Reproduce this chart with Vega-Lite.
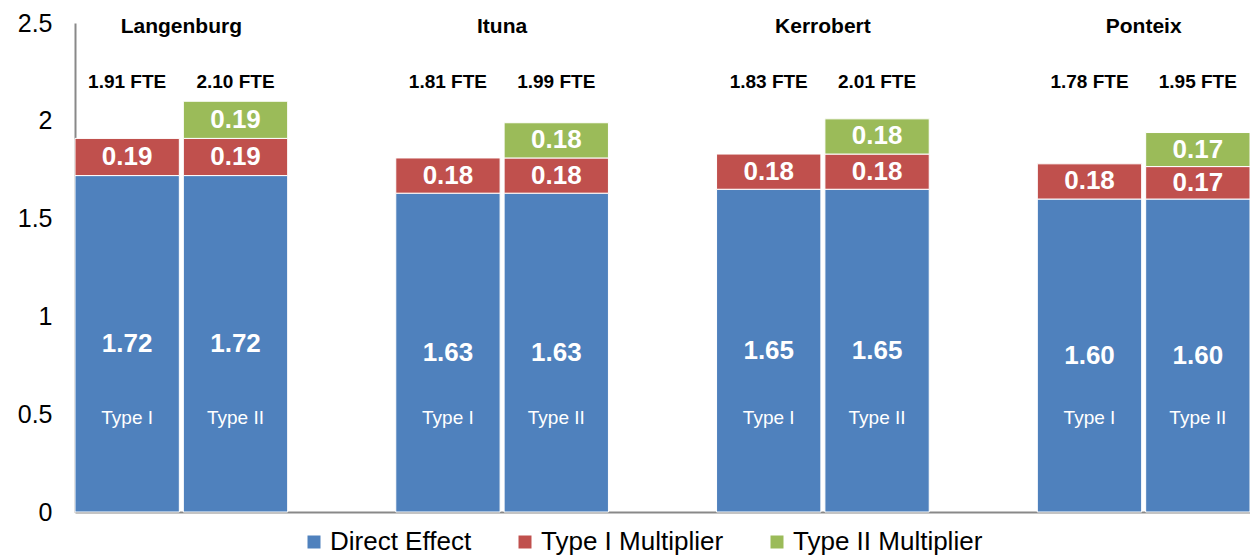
{
  "$schema": "https://vega.github.io/schema/vega-lite/v6.json",
  "autosize": {"type": "none"},
  "width": 1175,
  "height": 489,
  "padding": {"left": 75, "top": 23, "right": 0, "bottom": 46},
  "background": "white",
  "config": {
    "font": "Liberation Sans",
    "view": {"stroke": null}
  },
  "datasets": {
    "segments": [
      {"group": "Langenburg", "type": "Type I", "component": "Direct Effect", "value": 1.72},
      {"group": "Langenburg", "type": "Type I", "component": "Type I Multiplier", "value": 0.19},
      {"group": "Langenburg", "type": "Type II", "component": "Direct Effect", "value": 1.72},
      {"group": "Langenburg", "type": "Type II", "component": "Type I Multiplier", "value": 0.19},
      {"group": "Langenburg", "type": "Type II", "component": "Type II Multiplier", "value": 0.19},
      {"group": "Ituna", "type": "Type I", "component": "Direct Effect", "value": 1.63},
      {"group": "Ituna", "type": "Type I", "component": "Type I Multiplier", "value": 0.18},
      {"group": "Ituna", "type": "Type II", "component": "Direct Effect", "value": 1.63},
      {"group": "Ituna", "type": "Type II", "component": "Type I Multiplier", "value": 0.18},
      {"group": "Ituna", "type": "Type II", "component": "Type II Multiplier", "value": 0.18},
      {"group": "Kerrobert", "type": "Type I", "component": "Direct Effect", "value": 1.65},
      {"group": "Kerrobert", "type": "Type I", "component": "Type I Multiplier", "value": 0.18},
      {"group": "Kerrobert", "type": "Type II", "component": "Direct Effect", "value": 1.65},
      {"group": "Kerrobert", "type": "Type II", "component": "Type I Multiplier", "value": 0.18},
      {"group": "Kerrobert", "type": "Type II", "component": "Type II Multiplier", "value": 0.18},
      {"group": "Ponteix", "type": "Type I", "component": "Direct Effect", "value": 1.60},
      {"group": "Ponteix", "type": "Type I", "component": "Type I Multiplier", "value": 0.18},
      {"group": "Ponteix", "type": "Type II", "component": "Direct Effect", "value": 1.60},
      {"group": "Ponteix", "type": "Type II", "component": "Type I Multiplier", "value": 0.166},
      {"group": "Ponteix", "type": "Type II", "component": "Type II Multiplier", "value": 0.174}
    ],
    "totals": [
      {"group": "Langenburg", "type": "Type I", "total": 1.91},
      {"group": "Langenburg", "type": "Type II", "total": 2.10},
      {"group": "Ituna", "type": "Type I", "total": 1.81},
      {"group": "Ituna", "type": "Type II", "total": 1.99},
      {"group": "Kerrobert", "type": "Type I", "total": 1.83},
      {"group": "Kerrobert", "type": "Type II", "total": 2.01},
      {"group": "Ponteix", "type": "Type I", "total": 1.78},
      {"group": "Ponteix", "type": "Type II", "total": 1.95}
    ],
    "groups": [
      {"group": "Langenburg"},
      {"group": "Ituna"},
      {"group": "Kerrobert"},
      {"group": "Ponteix"}
    ]
  },
  "encoding": {
    "x": {
      "field": "group",
      "type": "nominal",
      "scale": {"domain": ["Langenburg", "Ituna", "Kerrobert", "Ponteix"], "paddingInner": 0.337, "paddingOuter": 0},
      "axis": {"labels": false, "ticks": false, "title": null, "domainColor": "#898989", "domainWidth": 2}
    }
  },
  "layer": [
    {
      "data": {"name": "segments"},
      "transform": [
        {"stack": "value", "groupby": ["group", "type"], "sort": [{"field": "component", "order": "ascending"}], "as": ["v0", "v1"]},
        {"calculate": "(datum.v0 + datum.v1) / 2", "as": "mid"}
      ],
      "layer": [
        {
          "mark": {"type": "bar", "stroke": "white", "strokeWidth": 1},
          "encoding": {
            "xOffset": {"field": "type", "type": "nominal", "scale": {"domain": ["Type I", "Type II"], "paddingInner": 0.037, "paddingOuter": 0}},
            "y": {
              "field": "v1", "type": "quantitative",
              "scale": {"domain": [0, 2.5], "nice": false, "zero": true},
              "axis": {"values": [0, 0.5, 1, 1.5, 2, 2.5], "format": "~g", "ticks": false, "grid": false, "title": null, "labelFontSize": 25, "labelColor": "black", "labelPadding": 23, "domainColor": "#898989", "domainWidth": 2}
            },
            "y2": {"field": "v0"},
            "color": {
              "field": "component", "type": "nominal",
              "scale": {"domain": ["Direct Effect", "Type I Multiplier", "Type II Multiplier"], "range": ["#4F81BD", "#C0504D", "#9BBB59"]},
              "legend": {
                "title": null, "orient": "none", "direction": "horizontal", "legendX": 226, "legendY": 506,
                "symbolType": "square", "symbolSize": 169, "symbolStrokeWidth": 0, "labelFontSize": 26, "labelColor": "black",
                "labelOffset": 3, "columnPadding": 40, "padding": 0, "labelLimit": 500
              }
            }
          }
        },
        {
          "mark": {"type": "text", "color": "white", "fontWeight": "bold", "fontSize": 26, "baseline": "middle", "align": "center"},
          "encoding": {
            "xOffset": {"field": "type", "type": "nominal"},
            "y": {"field": "mid", "type": "quantitative"},
            "text": {"field": "value", "type": "quantitative", "format": ".2f"}
          }
        },
        {
          "transform": [{"filter": "datum.component === 'Direct Effect'"}],
          "mark": {"type": "text", "color": "white", "fontSize": 19, "baseline": "middle", "align": "center"},
          "encoding": {
            "xOffset": {"field": "type", "type": "nominal"},
            "y": {"datum": 0.48},
            "text": {"field": "type", "type": "nominal"}
          }
        }
      ]
    },
    {
      "data": {"name": "totals"},
      "transform": [{"calculate": "format(datum.total, '.2f') + ' FTE'", "as": "label"}],
      "mark": {"type": "text", "color": "black", "fontWeight": "bold", "fontSize": 19, "baseline": "middle", "align": "center"},
      "encoding": {
        "xOffset": {"field": "type", "type": "nominal"},
        "y": {"datum": 2.198},
        "text": {"field": "label", "type": "nominal"}
      }
    },
    {
      "data": {"name": "groups"},
      "mark": {"type": "text", "color": "black", "fontWeight": "bold", "fontSize": 21, "baseline": "middle", "align": "center"},
      "encoding": {
        "y": {"datum": 2.48},
        "text": {"field": "group", "type": "nominal"}
      }
    }
  ]
}
